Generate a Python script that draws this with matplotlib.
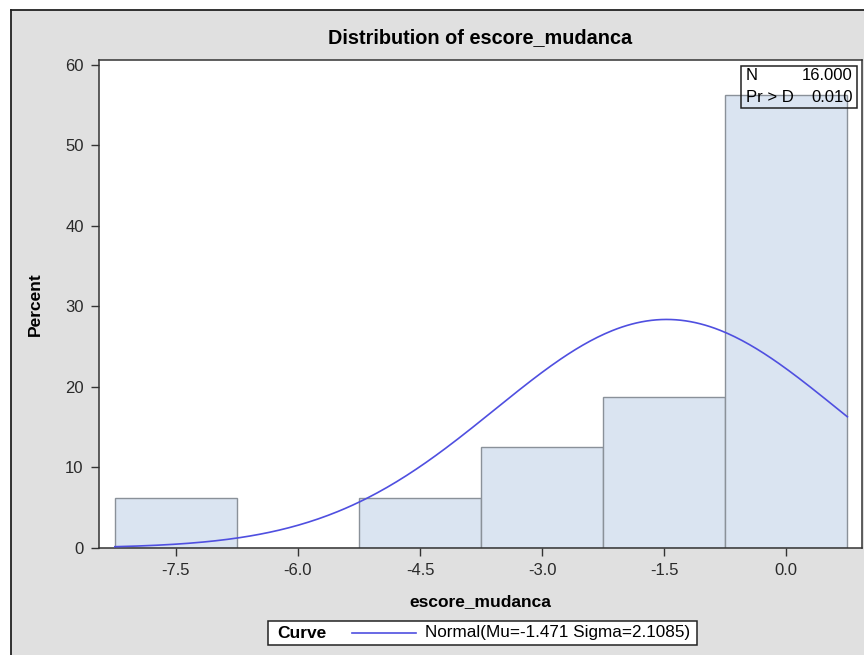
import numpy as np
import matplotlib.pyplot as plt
from matplotlib.patches import Rectangle
from matplotlib.lines import Line2D

plt.rcParams['font.family'] = ['Liberation Sans', 'DejaVu Sans']

# histogram data (percent per bin)
bin_centers = [-7.5, -6.0, -4.5, -3.0, -1.5, 0.0]
percents = [6.25, 0.0, 6.25, 12.5, 18.75, 56.25]
bin_width = 1.5
tick_labels = ['-7.5', '-6.0', '-4.5', '-3.0', '-1.5', '0.0']

# fitted normal curve parameters
mu = -1.471
sigma = 2.1085
n_obs = 16.000
p_value = 0.010

W, H = 864, 655
fig = plt.figure(figsize=(W / 100, H / 100), dpi=100, facecolor='white')

# gray panel with left/top border
fig.patches.append(Rectangle((11 / W, 0), 1, 1 - 10 / H, transform=fig.transFigure,
                             facecolor='#e0e0e0', edgecolor='none', zorder=-5))
fig.lines.append(Line2D([11 / W, 11 / W], [0, 1 - 10 / H], transform=fig.transFigure,
                        color='#222222', lw=1.3, zorder=-4))
fig.lines.append(Line2D([11 / W, 1], [1 - 10 / H, 1 - 10 / H], transform=fig.transFigure,
                        color='#222222', lw=1.3, zorder=-4))

ax = fig.add_axes([99 / W, 1 - 548 / H, (862 - 99) / W, (548 - 60) / H])
ax.set_facecolor('white')

ax.bar(bin_centers, percents, width=bin_width, color='#dae4f1',
       edgecolor='#8a9199', linewidth=1.0, zorder=2)

lo = bin_centers[0] - bin_width / 2
hi = bin_centers[-1] + bin_width / 2
xs = np.linspace(lo, hi, 300)
ys = 100 * bin_width * np.exp(-0.5 * ((xs - mu) / sigma) ** 2) / (sigma * np.sqrt(2 * np.pi))
ax.plot(xs, ys, color='#4f4fe0', lw=1.2, zorder=3)

ax.set_xlim(-8.445, 0.93)
ax.set_ylim(0, 60.6)
ax.set_xticks(bin_centers)
ax.set_xticklabels(tick_labels)
ax.set_yticks(range(0, 61, 10))
ax.tick_params(direction='out', length=6, width=1, colors='#333333',
               labelsize=12, labelcolor='#2a2a2a', pad=5)
for s in ax.spines.values():
    s.set_color('#333333')
    s.set_linewidth(1.1)

ax.set_xlabel('escore_mudanca', fontsize=12.5, fontweight='bold')
ax.xaxis.set_label_coords(0.5, -0.094)
ax.set_ylabel('Percent', fontsize=12.5, fontweight='bold')
ax.yaxis.set_label_coords(-0.074, 0.5)
ax.set_title('Distribution of escore_mudanca', fontsize=14.3, fontweight='bold', pad=12)

# stats inset
bx0, bx1 = (741 - 99) / 763, (857 - 99) / 763
by0, by1 = (548 - 108) / 488, (548 - 66) / 488
ax.add_patch(Rectangle((bx0, by0), bx1 - bx0, by1 - by0, transform=ax.transAxes,
                       facecolor='none', edgecolor='#222222', lw=1.1, zorder=5))
row1 = (548 - 76) / 488
row2 = (548 - 98) / 488
ax.text(bx0 + 0.006, row1, 'N', transform=ax.transAxes, fontsize=12, va='center', zorder=6)
ax.text(bx1 - 0.006, row1, f'{n_obs:.3f}', transform=ax.transAxes, fontsize=12,
        va='center', ha='right', zorder=6)
ax.text(bx0 + 0.006, row2, 'Pr > D', transform=ax.transAxes, fontsize=12, va='center', zorder=6)
ax.text(bx1 - 0.006, row2, f'{p_value:.3f}', transform=ax.transAxes, fontsize=12,
        va='center', ha='right', zorder=6)

# legend box below
fig.patches.append(Rectangle((268 / W, 1 - 645 / H), (697 - 268) / W, (645 - 621) / H,
                             transform=fig.transFigure, facecolor='white',
                             edgecolor='#222222', lw=1.1, zorder=2))
ly = 1 - 633 / H
fig.text(277 / W, ly, 'Curve', fontsize=12.5, fontweight='bold', va='center', zorder=3)
fig.lines.append(Line2D([352 / W, 416 / W], [ly, ly], transform=fig.transFigure,
                        color='#4f4fe0', lw=1.2, zorder=3))
fig.text(425 / W, ly, f'Normal(Mu={mu:.3f} Sigma={sigma:.4f})', fontsize=12.3,
         va='center', zorder=3)

fig.savefig('out.png', dpi=100, facecolor=fig.get_facecolor())
